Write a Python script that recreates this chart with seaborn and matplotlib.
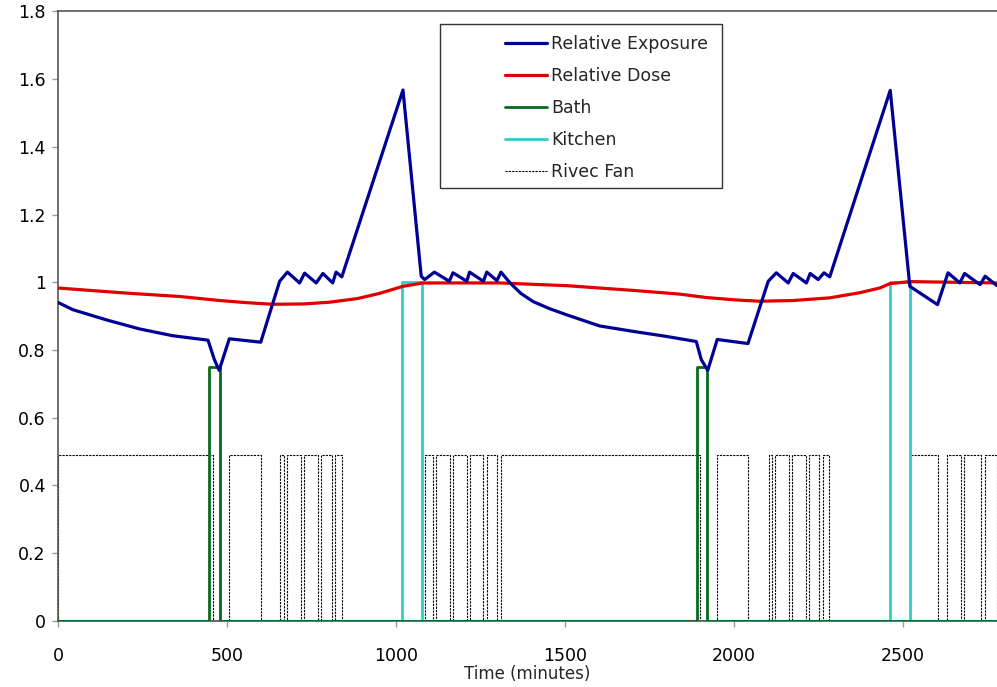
import numpy as np
import pandas as pd
import matplotlib
matplotlib.use("Agg")
import matplotlib.pyplot as plt
from matplotlib.patches import Rectangle
from matplotlib.ticker import FuncFormatter
import seaborn as sns

# relative exposure (minutes, value)
exposure_t = [0, 43, 142, 241, 339, 443, 462, 476, 506, 599, 655, 678, 714, 729, 763, 783, 812, 822, 839,
              1020, 1074, 1084, 1113, 1157, 1168, 1209, 1217, 1258, 1268, 1298, 1310, 1337, 1369, 1405,
              1454, 1504, 1602, 1701, 1800, 1888, 1903, 1922, 1950, 2041, 2101, 2125, 2160, 2175, 2214,
              2225, 2249, 2266, 2283, 2462, 2520, 2602, 2633, 2668, 2682, 2728, 2743, 2778]
exposure_v = [0.940, 0.919, 0.889, 0.862, 0.842, 0.829, 0.771, 0.740, 0.833, 0.823, 1.003, 1.030, 0.998,
              1.027, 0.998, 1.026, 0.998, 1.030, 1.016, 1.568, 1.018, 1.008, 1.030, 1.003, 1.028, 1.003,
              1.030, 1.003, 1.030, 1.005, 1.030, 0.998, 0.967, 0.943, 0.922, 0.904, 0.871, 0.855, 0.840,
              0.825, 0.771, 0.740, 0.831, 0.819, 1.003, 1.028, 0.998, 1.026, 0.998, 1.026, 1.008, 1.028,
              1.016, 1.567, 0.988, 0.934, 1.028, 0.998, 1.026, 0.993, 1.018, 0.990]

# relative dose
dose_t = [0, 201, 359, 479, 554, 634, 725, 802, 886, 950, 1020, 1079, 1243, 1306, 1504, 1701, 1839,
          1917, 2003, 2075, 2174, 2283, 2371, 2431, 2461, 2520, 2778]
dose_v = [0.983, 0.968, 0.958, 0.946, 0.940, 0.935, 0.936, 0.941, 0.952, 0.967, 0.988, 0.998, 0.998,
          0.998, 0.990, 0.976, 0.965, 0.955, 0.948, 0.944, 0.946, 0.954, 0.969, 0.983, 0.996, 1.002, 0.998]

# bath and kitchen fans (on intervals, minutes)
bath_start = [445, 1890]
bath_end = [479, 1920]
bath_level = 0.75
kitchen_start = [1017, 2461]
kitchen_end = [1077, 2522]
kitchen_level = 1.0

# rivec fan on intervals
fan_start = [0, 506, 657, 676, 727, 778, 819, 1086, 1118, 1168, 1217, 1268, 1309,
             1950, 2103, 2120, 2171, 2221, 2262, 2522, 2631, 2681, 2742]
fan_end = [457, 599, 667, 719, 768, 809, 839, 1108, 1159, 1209, 1258, 1298, 1898,
           2041, 2111, 2162, 2212, 2252, 2280, 2602, 2671, 2732, 2778]
fan_level = 0.49

t_max = 2778


def pulses(starts, ends, level):
    t, v = [0], [0]
    for s, e in zip(starts, ends):
        t += [s, s, e, e]
        v += [0, level, level, 0]
    t.append(t_max)
    v.append(0)
    return t, v


sns.set_style("white", {"xtick.bottom": True, "ytick.left": True,
                        "xtick.direction": "out", "ytick.direction": "out"})
plt.rcParams.update({
    "font.family": ["DejaVu Sans"],
    "xtick.major.size": 4, "ytick.major.size": 4,
    "xtick.major.width": 1, "ytick.major.width": 1,
    "xtick.color": "#999999", "ytick.color": "#999999",
    "xtick.labelcolor": "black", "ytick.labelcolor": "black",
    "xtick.major.pad": 15, "ytick.major.pad": 5,
    "xtick.labelsize": 12.5, "ytick.labelsize": 12.5,
})

fig = plt.figure(figsize=(9.97, 6.87), dpi=100)
ax = fig.add_axes([0.0585, 0.0964, 0.9415, 0.8869])

fan_t, fan_v = pulses(fan_start, fan_end, fan_level)
bath_t, bath_v = pulses(bath_start, bath_end, bath_level)
kit_t, kit_v = pulses(kitchen_start, kitchen_end, kitchen_level)

sns.lineplot(x=fan_t, y=fan_v, ax=ax, estimator=None, sort=False, color="black",
             lw=0.8, linestyle=(0, (2, 1)), zorder=1)
sns.lineplot(x=kit_t, y=kit_v, ax=ax, estimator=None, sort=False, color="#33cccc", lw=2.0, zorder=2)
sns.lineplot(x=bath_t, y=bath_v, ax=ax, estimator=None, sort=False, color="#046b1c", lw=2.0, zorder=3)
sns.lineplot(x=dose_t, y=dose_v, ax=ax, estimator=None, sort=False, color="#e00000", lw=2.3, zorder=4)
sns.lineplot(x=exposure_t, y=exposure_v, ax=ax, estimator=None, sort=False, color="#000096", lw=2.3, zorder=5)

ax.set_xlim(0, t_max)
ax.set_ylim(0, 1.8)
ax.set_xticks(np.arange(0, 2501, 500))
ax.set_yticks(np.arange(0, 1.81, 0.2))
ax.yaxis.set_major_formatter(FuncFormatter(lambda v, p: "%g" % round(v, 1)))
ax.set_xlabel("Time (minutes)", fontsize=12, labelpad=0)
ax.set_ylabel("")
for side in ["left", "top", "bottom"]:
    ax.spines[side].set_color("#555555")
    ax.spines[side].set_linewidth(1.2)
ax.spines["right"].set_visible(False)

# legend with a wide box like the original
ax.add_patch(Rectangle((0.4066, 0.7103), 0.3005, 0.2692, transform=ax.transAxes,
                       facecolor="white", edgecolor="#333333", lw=1.0, zorder=6))
names = ["Relative Exposure", "Relative Dose", "Bath", "Kitchen", "Rivec Fan"]
handles = [ax.lines[4], ax.lines[3], ax.lines[2], ax.lines[1], ax.lines[0]]
leg = ax.legend(handles, names, loc="upper left", bbox_to_anchor=(0.4759, 0.961),
                frameon=False, fontsize=12.5, borderpad=0, borderaxespad=0,
                handlelength=2.4, handletextpad=0.25, labelspacing=0.8)
leg.set_zorder(7)

fig.savefig("out.png", dpi=100)
